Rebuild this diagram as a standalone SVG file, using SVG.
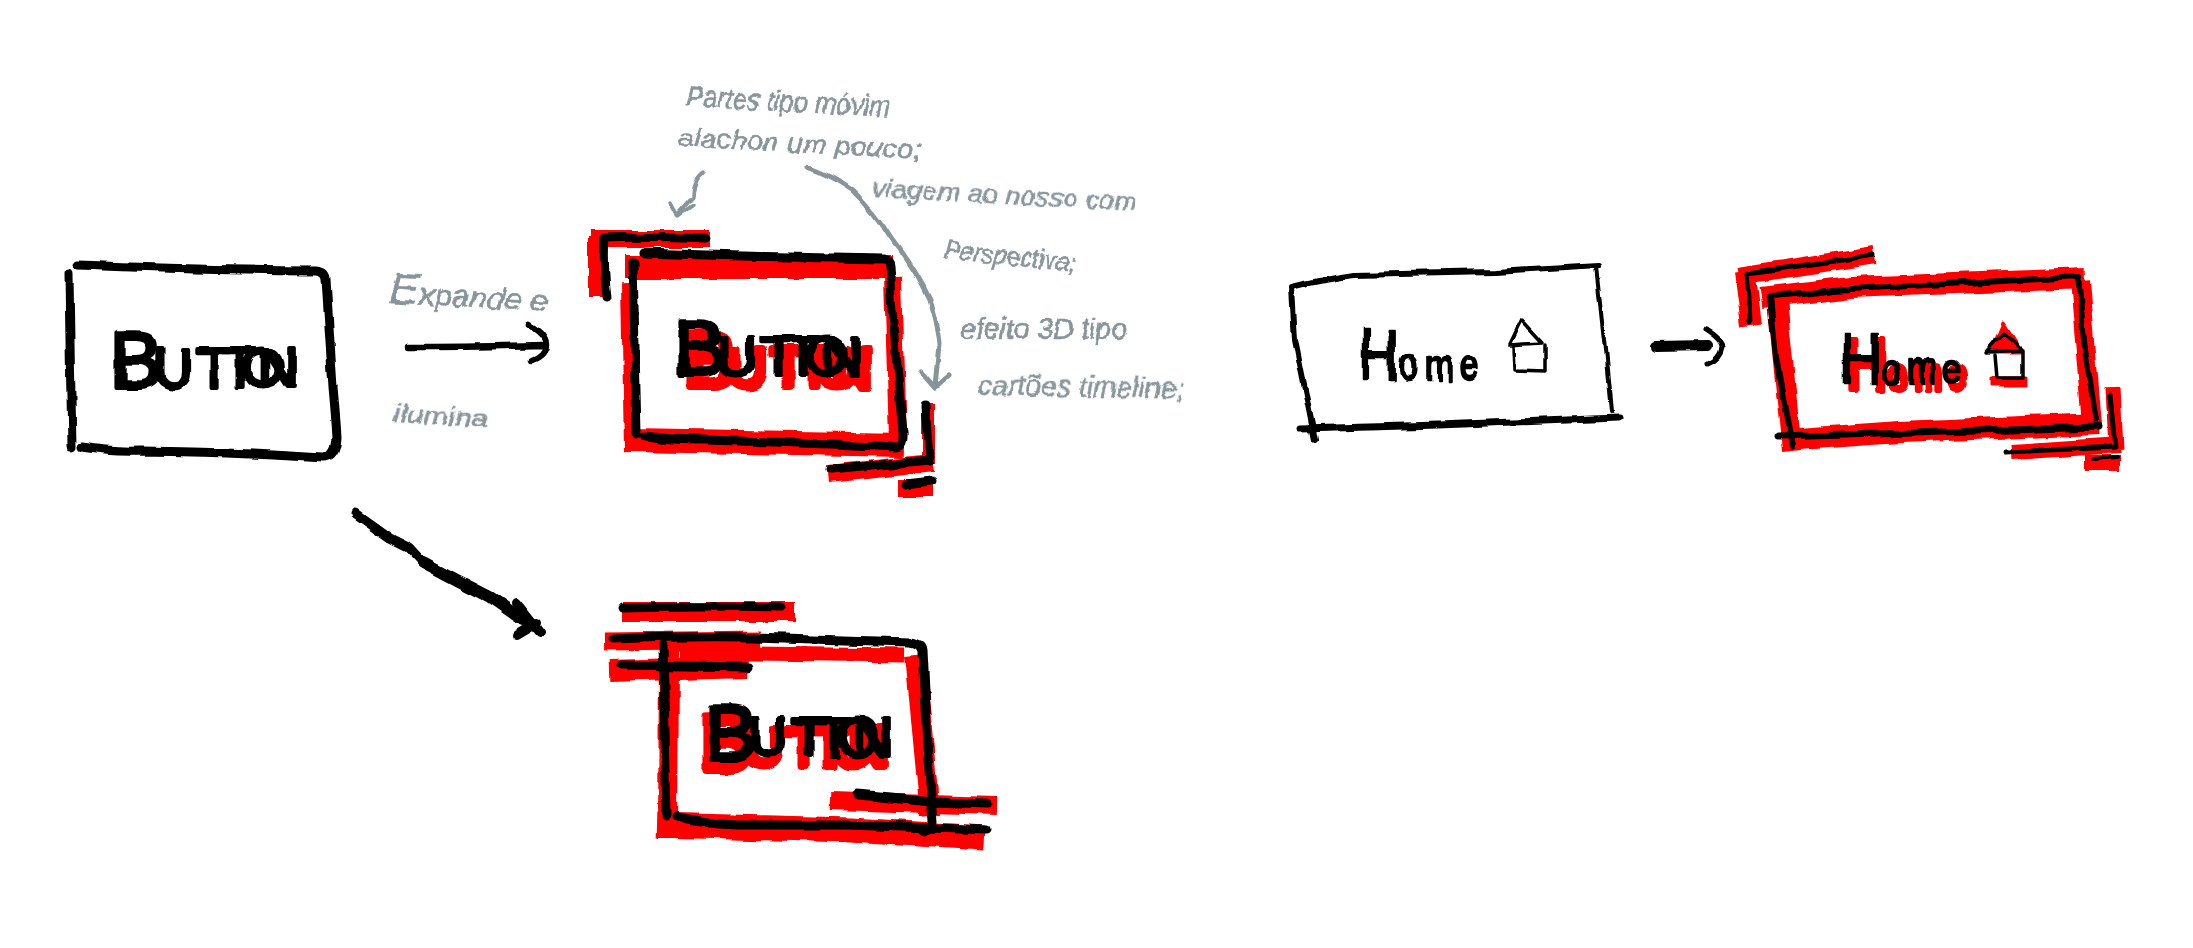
<svg xmlns="http://www.w3.org/2000/svg" width="2193" height="948" viewBox="0 0 2193 948">
<style>
path{fill:none;stroke-linecap:round;stroke-linejoin:round}
.k{stroke:#000;stroke-width:9}
.k5{stroke:#000;stroke-width:5}
.r{stroke:#f00;stroke-linecap:butt;stroke-linejoin:miter}
.g{stroke:#87959b;stroke-width:5}
.g3{stroke:#87959b;stroke-width:3.5}
text{font-family:"Liberation Sans",Arial,sans-serif}
.btn{fill:#000;stroke:#000;stroke-width:4;stroke-linejoin:round;font-size:56px}
.btnr{fill:#f00;stroke:#f00;stroke-width:8;stroke-linejoin:round;font-size:56px}
.big{font-size:78px}
.hm{fill:#000;stroke:#000;stroke-width:2.5;stroke-linejoin:round;font-size:72px}
.hmr{fill:#f00;stroke:#f00;stroke-width:6;stroke-linejoin:round;font-size:72px}
.o{font-size:44px;letter-spacing:7px}
.note{fill:#87959b;stroke:#87959b;stroke-width:.6;font-size:26px;font-style:italic}
.hand{filter:url(#h)}
.handt{filter:url(#t)}
</style>
<defs>
<filter id="h" filterUnits="userSpaceOnUse" x="0" y="0" width="2193" height="948">
<feTurbulence type="fractalNoise" baseFrequency=".035" numOctaves="2" seed="4"/>
<feDisplacementMap in="SourceGraphic" scale="7" xChannelSelector="R" yChannelSelector="G"/>
<feGaussianBlur stdDeviation=".6"/>
</filter>
<filter id="t" filterUnits="userSpaceOnUse" x="0" y="0" width="2193" height="948">
<feTurbulence type="fractalNoise" baseFrequency=".07" numOctaves="2" seed="9"/>
<feDisplacementMap in="SourceGraphic" scale="5" xChannelSelector="R" yChannelSelector="G"/>
<feGaussianBlur stdDeviation=".5"/>
</filter>
</defs>

<g id="node-button" class="hand">
<path class="k" d="M69 273Q70 360 72 447M79 265Q190 270 317 271Q326 272 326 280Q330 340 333 387Q336 420 337 437Q336 458 323 458Q240 452 140 451Q110 452 82 447"/>
<text class="btn" y="383"><tspan class="big" x="110" y="387">B</tspan><tspan x="153 197 222 241 258">UTTON</tspan></text>
</g>

<g id="node-button-pressed" class="hand">
<path class="r" stroke-width="18" d="M590 239H709"/>
<path class="r" stroke-width="20" d="M598 237V297"/>
<path class="r" stroke-width="24" d="M625 267H892"/>
<path class="r" stroke-width="16" d="M629 283L632 452"/>
<path class="r" stroke-width="18" d="M893 277L898 440"/>
<path class="r" stroke-width="24" d="M631 440L905 445"/>
<path class="r" stroke-width="14" d="M928 403V463"/>
<path class="r" stroke-width="18" d="M828 474L932 463"/>
<rect x="897" y="480" width="36" height="18" fill="#f00"/>
<text class="btnr" transform="translate(10 12)" y="371"><tspan class="big" x="674" y="375">B</tspan><tspan x="717 761 786 805 822">UTTON</tspan></text>
<path class="k" d="M607 297Q603 265 605 238Q650 236 705 239M633 262L637 433M643 253Q760 257 884 259Q890 260 890 267L897 367L903 433Q904 447 897 447Q815 443 705 440Q670 440 645 436"/>
<path class="k" d="M925 405L929 460L831 470M905 485L931 482"/>
<text class="btn" y="371"><tspan class="big" x="674" y="375">B</tspan><tspan x="717 761 786 805 822">UTTON</tspan></text>
</g>

<g id="node-button-stacked" class="hand">
<path class="r" stroke-width="20" d="M623 612H795"/>
<path class="r" stroke-width="19" d="M605 642L760 640"/>
<path class="r" stroke-width="22" d="M610 671L747 667"/>
<path class="r" stroke-width="15" d="M680 652L905 655"/>
<path class="r" stroke-width="20" d="M669 650L668 838"/>
<path class="r" stroke-width="20" d="M915 655L930 815"/>
<path class="r" stroke-width="25" d="M657 825L850 830L985 838"/>
<path class="r" stroke-width="18" d="M830 801L997 806"/>
<text class="btnr" transform="translate(590 383)"><tspan class="big" x="110" y="387">B</tspan><tspan x="153 197 222 241 258" y="383">UTTON</tspan></text>
<path class="k" d="M623 608Q700 606 783 608M613 639Q680 636 753 637Q830 640 910 642Q922 644 922 652L927 747L933 820Q933 830 925 830M622 665L747 667M663 645L667 817M677 818Q700 823 737 825Q800 825 847 825L987 830M858 795L933 802L987 804"/>
<text class="btn" transform="translate(595 373)"><tspan class="big" x="110" y="387">B</tspan><tspan x="153 197 222 241 258" y="383">UTTON</tspan></text>
</g>

<g id="node-home" class="hand">
<path class="k5" stroke-width="6" style="stroke-width:6" d="M1292 287Q1320 280 1354 275L1495 272L1599 266M1292 287L1295 340L1315 440"/>
<path class="k5" style="stroke-width:4" d="M1596 267L1604 340L1611 412"/>
<path class="k" style="stroke-width:7" d="M1301 429L1438 425L1618 418"/>
<text class="hm" transform="translate(1358 380) scale(.8 1)">H<tspan class="o">ome</tspan></text>
<path d="M1521 320L1509 345L1542 343ZM1514 347L1515 370L1545 371L1545 345" stroke="#000" stroke-width="3.5"/>
</g>

<g id="node-home-pressed" class="hand">
<path class="r" stroke-width="18" d="M1738 276L1875 255"/>
<path class="r" stroke-width="22" d="M1745 270L1752 325"/>
<path class="r" stroke-width="22" d="M1762 298L1850 287L2085 278"/>
<path class="r" stroke-width="20" d="M1776 290L1792 452"/>
<path class="r" stroke-width="20" d="M2080 280L2092 425"/>
<path class="r" stroke-width="22" d="M1785 440L1900 432L2098 424"/>
<path class="r" stroke-width="15" d="M2113 387L2116 450"/>
<path class="r" stroke-width="16" d="M2012 452L2120 445"/>
<rect x="2085" y="455" width="36" height="16" fill="#f00"/>
<text class="hmr" transform="translate(1846 390) scale(.8 1)">H<tspan class="o">ome</tspan></text>
<path d="M2003 322L1990 352H2022ZM1992 378H2026V386H1992Z" stroke="#f00" stroke-width="3" style="fill:#f00"/>
<path class="k5" d="M1750 322Q1749 295 1747 273Q1810 265 1874 255"/>
<path class="k" style="stroke-width:6" d="M1770 297Q1800 295 1832 290L2079 277M1770 297L1776 357L1792 448M2078 277L2085 350L2096 420"/>
<path class="k" style="stroke-width:7" d="M1778 437L1944 432L2099 427"/>
<path class="k5" d="M2110 395L2115 447L2006 452"/>
<path class="k5" style="stroke-width:4" d="M2093 459L2118 457"/>
<text class="hm" transform="translate(1840 384) scale(.8 1)">H<tspan class="o">ome</tspan></text>
<path d="M2003 332L1986 352L2023 350ZM1995 355L1997 378L2023 378L2023 350" stroke="#000" stroke-width="3.5"/>
</g>

<g id="connectors" class="hand">
<path class="k" style="stroke-width:6.5" d="M408 347Q480 347 543 345M530 325Q547 335 547 345Q546 355 533 360"/>
<path class="k" style="stroke-width:9" d="M355 513L390 538L410 548L423 562L457 580"/>
<path class="k" style="stroke-width:12" d="M423 562L457 580L490 597L523 620"/>
<path class="k" style="stroke-width:10" d="M517 603L540 632M517 635L537 623"/>
<path class="k" style="stroke-width:10" d="M1655 346L1708 345"/>
<path class="k" style="stroke-width:5" d="M1705 329Q1722 340 1722 347Q1720 358 1708 363"/>
<path class="g" d="M807 167Q830 175 852 190Q875 212 892 240Q915 270 929 300Q938 330 939 343L935 387M921 372L935 388L950 375"/>
<path class="g3" d="M703 172Q692 180 692 197L676 215M670 203L677 216L692 205"/>
</g>

<g id="annotations" class="handt">
<text class="note" transform="translate(388 303) rotate(3)" textLength="160" lengthAdjust="spacingAndGlyphs"><tspan style="font-size:44px">E</tspan><tspan style="font-size:30px">xpande e</tspan></text>
<text class="note" style="font-size:24px" transform="translate(393 422) rotate(3)" textLength="95" lengthAdjust="spacingAndGlyphs">ilumina</text>
<text class="note" style="font-size:30px" transform="translate(686 106) rotate(3)" textLength="204" lengthAdjust="spacingAndGlyphs">Partes tipo móvim</text>
<text class="note" transform="translate(678 146) rotate(3)" textLength="243" lengthAdjust="spacingAndGlyphs">alachon um pouco;</text>
<text class="note" transform="translate(872 197) rotate(3)" textLength="265" lengthAdjust="spacingAndGlyphs">viagem ao nosso com</text>
<text class="note" transform="translate(943 258) rotate(6)" textLength="133" lengthAdjust="spacingAndGlyphs">Perspectiva;</text>
<text class="note" style="font-size:30px" transform="translate(960 339)" textLength="167" lengthAdjust="spacingAndGlyphs">efeito 3D tipo</text>
<text class="note" style="font-size:30px" transform="translate(978 395) rotate(1)" textLength="206" lengthAdjust="spacingAndGlyphs">cartões timeline;</text>
</g>
</svg>
